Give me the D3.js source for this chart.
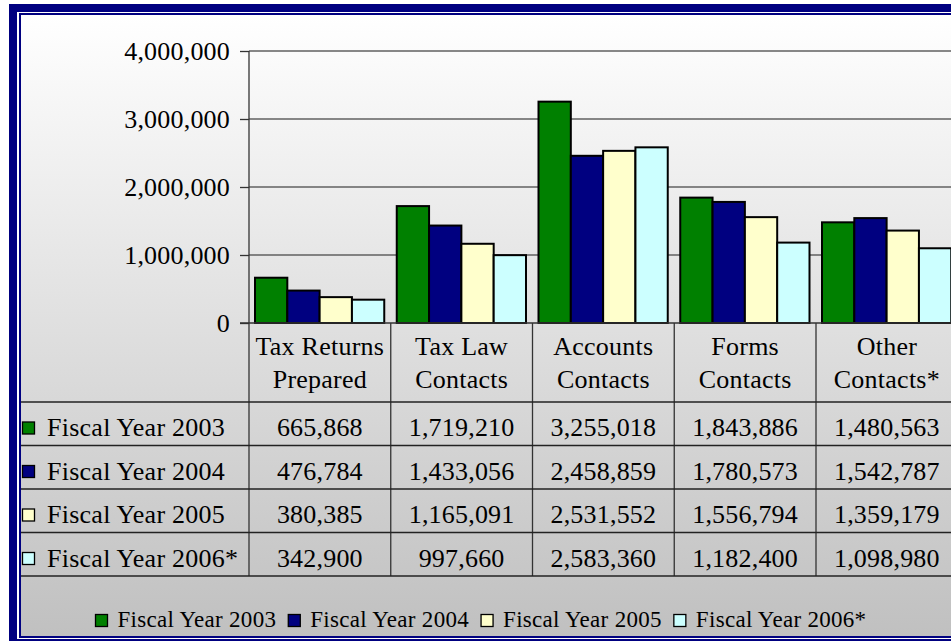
<!DOCTYPE html>
<html>
<head>
<meta charset="utf-8">
<script src="https://cdn.jsdelivr.net/npm/d3@7"></script>
<style>
  body { margin: 0; background: #ffffff; overflow: hidden; }
  text { font-family: "Times New Roman", "Liberation Serif", serif; fill: #000; }
</style>
</head>
<body>
<div id="chart"></div>
<script>
// Chart data
const categories = [["Tax Returns", "Prepared"], ["Tax Law", "Contacts"], ["Accounts", "Contacts"], ["Forms", "Contacts"], ["Other", "Contacts*"]];
const seriesNames = ["Fiscal Year 2003", "Fiscal Year 2004", "Fiscal Year 2005", "Fiscal Year 2006*"];
const fy2003 = [665868, 1719210, 3255018, 1843886, 1480563];
const fy2004 = [476784, 1433056, 2458859, 1780573, 1542787];
const fy2005 = [380385, 1165091, 2531552, 1556794, 1359179];
const fy2006 = [342900, 997660, 2583360, 1182400, 1098980];
const yTicks = [0, 1000000, 2000000, 3000000, 4000000];

const seriesValues = [fy2003, fy2004, fy2005, fy2006];
const colors = ["#008000", "#000080", "#FFFFCC", "#CCFFFF"];

const width = 951, height = 641;

const svg = d3.select("#chart").append("svg")
    .attr("width", width)
    .attr("height", height);

// background gradient
const grad = svg.append("defs").append("linearGradient")
    .attr("id", "bg").attr("x1", 0).attr("y1", 0).attr("x2", 0).attr("y2", 1);
grad.append("stop").attr("offset", "0%").attr("stop-color", "#ffffff");
grad.append("stop").attr("offset", "100%").attr("stop-color", "#c0c0c0");

svg.append("rect").attr("x", 21).attr("y", 15).attr("width", 1000).attr("height", 621)
    .attr("fill", "url(#bg)");

// scales
const catIdx = d3.range(categories.length);
const x0 = d3.scaleBand().domain(catIdx).range([249, 249 + 141.75 * categories.length]);
const x1 = d3.scaleBand().domain(d3.range(seriesNames.length)).range([6, x0.bandwidth() - 6.5]);
const y = d3.scaleLinear().domain([0, 4000000]).range([323, 51]);
const rowY = d3.scaleBand().domain(d3.range(seriesNames.length)).range([402, 576]);
const fmt = d3.format(",");

// gridlines
svg.append("g").selectAll("line")
    .data(yTicks.filter(d => d > 0))
    .enter().append("line")
    .attr("x1", 249).attr("x2", width)
    .attr("y1", d => y(d)).attr("y2", d => y(d))
    .attr("stroke", "#606060").attr("stroke-width", 1.5);

// y axis
const yAxis = svg.append("g")
    .attr("transform", "translate(249,0)")
    .call(d3.axisLeft(y).tickValues(yTicks).tickFormat(fmt).tickSize(9).tickPadding(10));
yAxis.select(".domain").remove();
yAxis.selectAll(".tick line").attr("stroke", "#333").attr("stroke-width", 1.3);
yAxis.selectAll(".tick text")
    .attr("font-size", 26)
    .attr("letter-spacing", 0.2)
    .attr("font-family", "'Times New Roman', 'Liberation Serif', serif")
    .attr("fill", "#000");

// bars
const groups = svg.append("g").selectAll("g")
    .data(catIdx)
    .enter().append("g")
    .attr("transform", i => "translate(" + x0(i) + ",0)");

groups.selectAll("rect")
    .data(i => seriesValues.map((vals, s) => ({ s: s, v: vals[i] })))
    .enter().append("rect")
    .attr("x", d => x1(d.s))
    .attr("y", d => y(d.v))
    .attr("width", x1.bandwidth())
    .attr("height", d => y(0) - y(d.v))
    .attr("fill", d => colors[d.s])
    .attr("stroke", "#000")
    .attr("stroke-width", 2);

// axis line and base line
svg.append("line").attr("x1", 249).attr("x2", 249).attr("y1", y(4000000)).attr("y2", 576)
    .attr("stroke", "#333").attr("stroke-width", 1.3);
svg.append("line").attr("x1", 240).attr("x2", width).attr("y1", y(0)).attr("y2", y(0))
    .attr("stroke", "#333").attr("stroke-width", 1.3);

// data table
const table = svg.append("g");

// vertical column lines
table.selectAll("line.col")
    .data(catIdx.slice(1).concat([categories.length]))
    .enter().append("line")
    .attr("class", "col")
    .attr("x1", i => x0.range()[0] + i * x0.step())
    .attr("x2", i => x0.range()[0] + i * x0.step())
    .attr("y1", y(0)).attr("y2", 576)
    .attr("stroke", "#333").attr("stroke-width", 1.3);

// horizontal row lines
table.selectAll("line.row")
    .data([402].concat(seriesNames.map((d, s) => rowY(s) + rowY.bandwidth())))
    .enter().append("line")
    .attr("class", "row")
    .attr("x1", 21).attr("x2", width)
    .attr("y1", d => d).attr("y2", d => d)
    .attr("stroke", "#222").attr("stroke-width", 1.3);

// category headers
const headers = table.selectAll("text.head")
    .data(catIdx)
    .enter().append("text")
    .attr("class", "head")
    .attr("text-anchor", "middle")
    .attr("letter-spacing", 0.25)
    .attr("font-size", 26);
headers.append("tspan")
    .attr("x", i => x0(i) + x0.bandwidth() / 2).attr("y", 355)
    .text(i => categories[i][0]);
headers.append("tspan")
    .attr("x", i => x0(i) + x0.bandwidth() / 2).attr("y", 388)
    .text(i => categories[i][1]);

// row labels with keys
const rows = table.selectAll("g.rowlab")
    .data(seriesNames)
    .enter().append("g")
    .attr("class", "rowlab");
rows.append("rect")
    .attr("x", 22.5).attr("y", (d, s) => rowY(s) + 20)
    .attr("width", 12).attr("height", 12)
    .attr("fill", (d, s) => colors[s])
    .attr("stroke", "#000").attr("stroke-width", 1.3);
rows.append("text")
    .attr("x", 47).attr("y", (d, s) => rowY(s) + 34)
    .attr("font-size", 26)
    .attr("letter-spacing", 0.25)
    .text(d => d);

// cell values
seriesValues.forEach((vals, s) => {
    table.append("g").selectAll("text")
        .data(vals)
        .enter().append("text")
        .attr("x", (v, i) => x0(i) + x0.bandwidth() / 2)
        .attr("y", rowY(s) + 34)
        .attr("text-anchor", "middle")
        .attr("font-size", 26)
        .attr("letter-spacing", 0.2)
        .text(v => fmt(v));
});

// legend
const legend = svg.append("g");
let lx = 95.5;
seriesNames.forEach((name, s) => {
    legend.append("rect")
        .attr("x", lx).attr("y", 614.5)
        .attr("width", 12).attr("height", 12)
        .attr("fill", colors[s])
        .attr("stroke", "#000").attr("stroke-width", 1.3);
    const t = legend.append("text")
        .attr("x", lx + 22).attr("y", 627)
        .attr("font-size", 23)
        .attr("letter-spacing", 0.3)
        .text(name);
    lx = lx + 22 + t.node().getComputedTextLength() + 12;
});

// borders
svg.append("rect").attr("x", 13).attr("y", 8).attr("width", 1000).attr("height", 635)
    .attr("fill", "none").attr("stroke", "#000080").attr("stroke-width", 8);
svg.append("rect").attr("x", 20).attr("y", 14).attr("width", 1000).attr("height", 623)
    .attr("fill", "none").attr("stroke", "#000080").attr("stroke-width", 2);
</script>
</body>
</html>
